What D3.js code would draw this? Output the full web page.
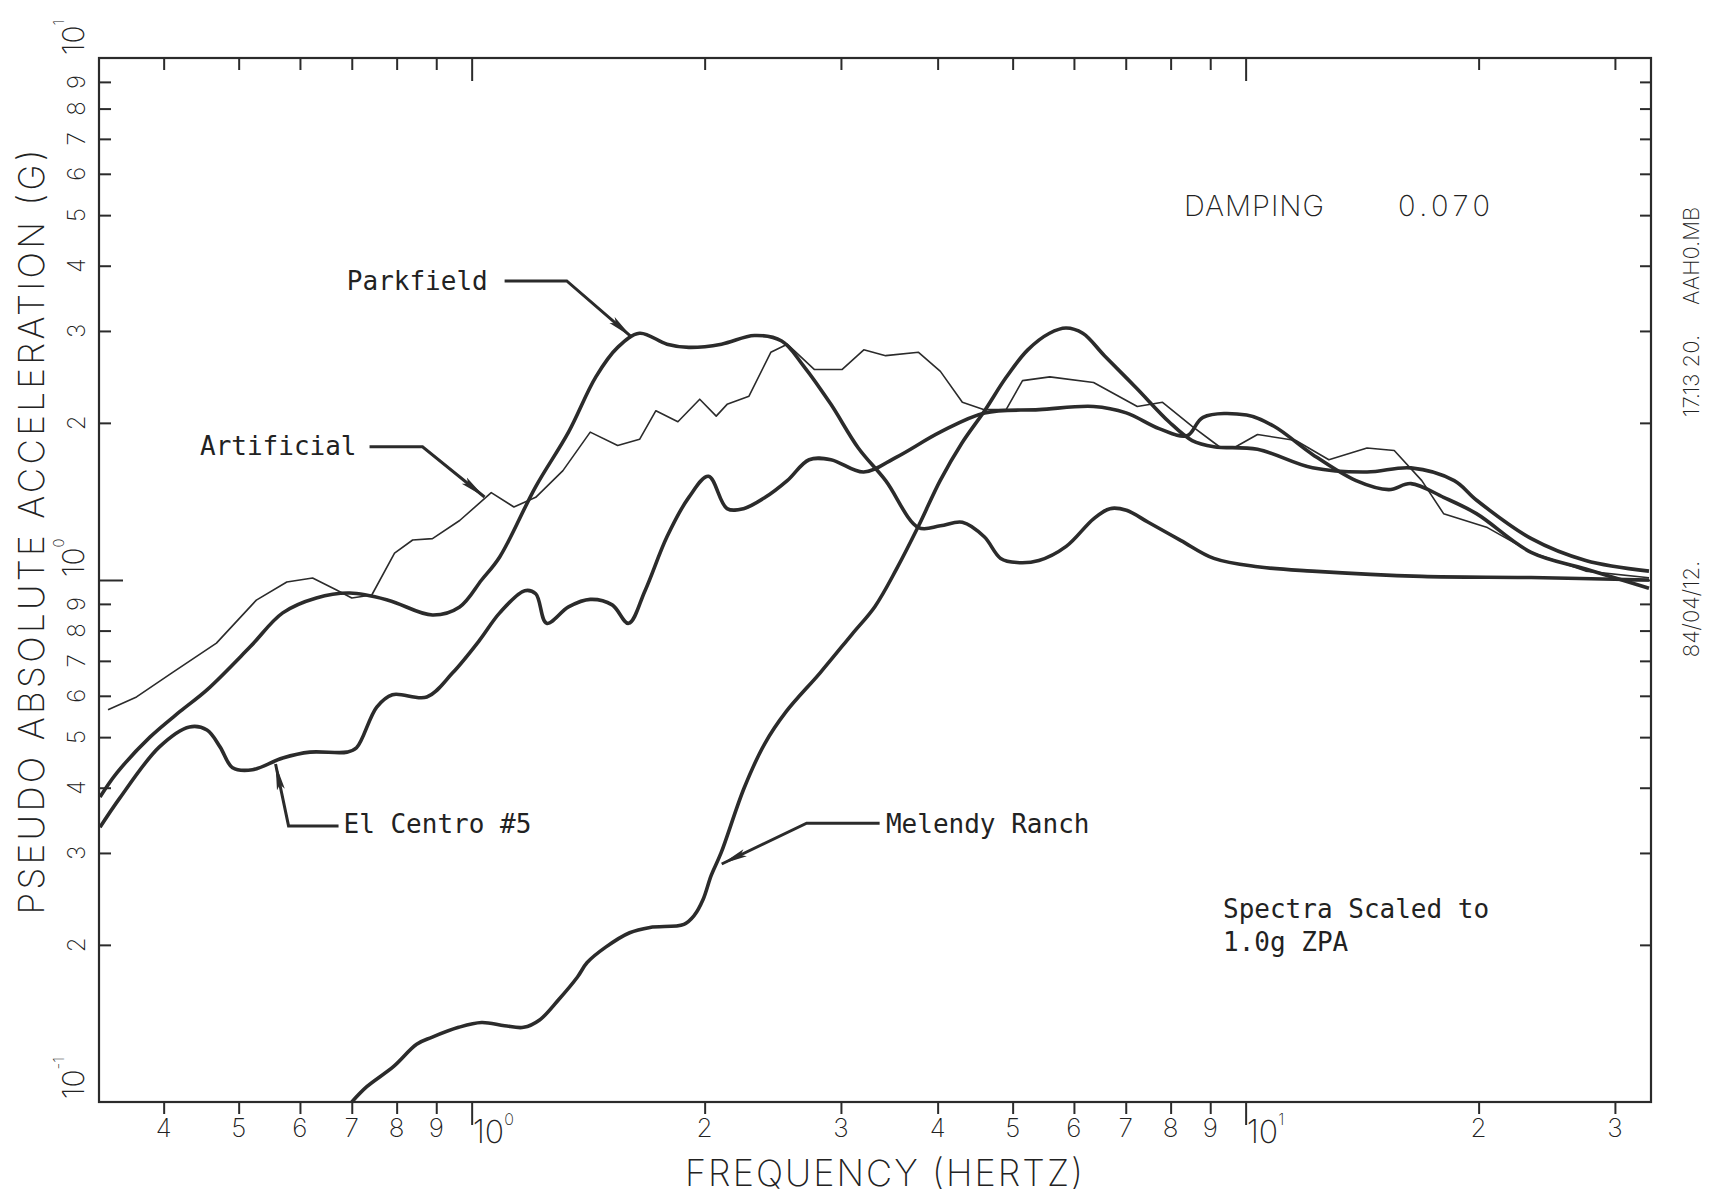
<!DOCTYPE html>
<html>
<head>
<meta charset="utf-8">
<script src="https://cdn.jsdelivr.net/npm/d3@7"></script>
<style>
  html, body { margin: 0; padding: 0; background: #fff; }
  svg { display: block; }
</style>
</head>
<body>
<svg id="chart" width="1715" height="1194"></svg>
<script>
// ---- axis ticks -------------------------------------------------------
const freqTicks = [0.4, 0.5, 0.6, 0.7, 0.8, 0.9, 1, 2, 3, 4, 5, 6, 7, 8, 9, 10, 20, 30];
const freqTickLabels = ["4", "5", "6", "7", "8", "9", "10^0", "2", "3", "4", "5", "6", "7", "8", "9", "10^1", "2", "3"];
const accTicks = [0.2, 0.3, 0.4, 0.5, 0.6, 0.7, 0.8, 0.9, 1, 2, 3, 4, 5, 6, 7, 8, 9];
const accTickLabels = ["2", "3", "4", "5", "6", "7", "8", "9", "", "2", "3", "4", "5", "6", "7", "8", "9"];
const accDecades = [0.1, 1, 10];
const accDecadeLabels = ["10^-1", "10^0", "10^1"];

// ---- response spectra: [frequency Hz, pseudo absolute acceleration g] ----
const parkfield = [
  [0.331, 0.384], [0.348, 0.427], [0.384, 0.50], [0.420, 0.56], [0.455, 0.616],
  [0.517, 0.744], [0.57, 0.865], [0.63, 0.924], [0.696, 0.944], [0.78, 0.915],
  [0.89, 0.857], [0.965, 0.888], [1.03, 1.0], [1.087, 1.107], [1.21, 1.51],
  [1.334, 1.92], [1.447, 2.45], [1.544, 2.79], [1.648, 2.97], [1.788, 2.83],
  [1.908, 2.79], [2.103, 2.83], [2.319, 2.94], [2.515, 2.87], [2.685, 2.57],
  [2.912, 2.17], [3.159, 1.79], [3.427, 1.55], [3.779, 1.26], [4.033, 1.27],
  [4.305, 1.29], [4.595, 1.21], [4.825, 1.10], [5.066, 1.08], [5.406, 1.09],
  [5.864, 1.16], [6.361, 1.31], [6.679, 1.37], [7.014, 1.36], [7.484, 1.29],
  [8.252, 1.19], [9.099, 1.10], [10.36, 1.06], [12.2, 1.04], [16.89, 1.016],
  [23.38, 1.011], [33.2, 1.0]
];
const elCentro = [
  [0.331, 0.336], [0.351, 0.382], [0.395, 0.479], [0.432, 0.523], [0.455, 0.516],
  [0.473, 0.479], [0.491, 0.437], [0.521, 0.433], [0.57, 0.456], [0.618, 0.468],
  [0.69, 0.468], [0.71, 0.477], [0.754, 0.571], [0.79, 0.603], [0.875, 0.597],
  [0.945, 0.664], [1.024, 0.767], [1.087, 0.865], [1.171, 0.954], [1.21, 0.941],
  [1.25, 0.826], [1.334, 0.888], [1.423, 0.918], [1.519, 0.896], [1.595, 0.826],
  [1.675, 0.954], [1.788, 1.21], [1.908, 1.44], [2.023, 1.58], [2.138, 1.37],
  [2.245, 1.37], [2.395, 1.44], [2.557, 1.55], [2.729, 1.70], [2.912, 1.70],
  [3.21, 1.61], [3.54, 1.72], [4.03, 1.92], [4.6, 2.09], [5.41, 2.12],
  [6.36, 2.15], [7.01, 2.09], [7.73, 1.95], [8.4, 1.89], [8.81, 2.05],
  [10.03, 2.07], [10.88, 1.97], [12.2, 1.74], [13.89, 1.55], [15.31, 1.49],
  [16.35, 1.53], [18.02, 1.44], [19.87, 1.34], [23.38, 1.13], [27.5, 1.05],
  [33.2, 0.964]
];
const melendyRanch = [
  [0.70, 0.100], [0.732, 0.107], [0.793, 0.117], [0.849, 0.129], [0.888, 0.133],
  [0.962, 0.139], [1.03, 0.142], [1.103, 0.140], [1.167, 0.139], [1.224, 0.1436],
  [1.295, 0.157], [1.37, 0.1736], [1.41, 0.185], [1.49, 0.198], [1.6, 0.211],
  [1.7, 0.216], [1.88, 0.219], [1.94, 0.228], [1.99, 0.244], [2.04, 0.272],
  [2.1, 0.30], [2.25, 0.40], [2.39, 0.485], [2.55, 0.56], [2.82, 0.664],
  [3.1, 0.787], [3.32, 0.89], [3.54, 1.05], [3.78, 1.27], [4.03, 1.55],
  [4.3, 1.83], [4.6, 2.11], [4.9, 2.44], [5.23, 2.76], [5.58, 2.97],
  [5.86, 3.04], [6.16, 2.97], [6.57, 2.69], [7.23, 2.33], [7.96, 2.01],
  [8.53, 1.85], [9.1, 1.80], [10.36, 1.78], [12.2, 1.64], [14.35, 1.61],
  [16.35, 1.64], [18.6, 1.55], [19.9, 1.42], [23.4, 1.2], [27.5, 1.09],
  [33.2, 1.04]
];
const artificial = [
  [0.339, 0.564], [0.369, 0.597], [0.41, 0.664], [0.468, 0.757], [0.527, 0.915],
  [0.577, 0.991], [0.623, 1.009], [0.669, 0.957], [0.70, 0.924], [0.743, 0.936],
  [0.795, 1.126], [0.839, 1.193], [0.89, 1.2], [0.965, 1.30], [1.06, 1.47],
  [1.134, 1.38], [1.21, 1.44], [1.312, 1.62], [1.423, 1.92], [1.544, 1.81],
  [1.648, 1.86], [1.73, 2.11], [1.847, 2.01], [1.971, 2.22], [2.07, 2.06],
  [2.138, 2.17], [2.282, 2.25], [2.435, 2.73], [2.557, 2.83], [2.773, 2.53],
  [3.009, 2.53], [3.211, 2.76], [3.427, 2.69], [3.779, 2.73], [4.033, 2.51],
  [4.305, 2.19], [4.595, 2.12], [4.904, 2.12], [5.149, 2.41], [5.585, 2.45],
  [6.361, 2.39], [7.245, 2.15], [7.81, 2.19], [8.53, 1.97], [9.25, 1.80],
  [9.71, 1.80], [10.36, 1.90], [11.61, 1.85], [12.81, 1.70], [14.35, 1.79],
  [15.56, 1.77], [16.89, 1.55], [18.02, 1.34], [20.53, 1.26], [23.38, 1.13],
  [27.5, 1.04], [33.2, 1.01]
];

// ---- curve labels with leader arrows (points in Hz / g) ----
const annotations = [
  { text: "Parkfield", anchor: "end", at: [1.049, 3.59], leader: [[1.103, 3.74], [1.327, 3.74], [1.61, 2.92]] },
  { text: "Artificial", anchor: "end", at: [0.71, 1.736], leader: [[0.738, 1.80], [0.864, 1.80], [1.039, 1.442]] },
  { text: "El Centro #5", anchor: "start", at: [0.683, 0.3276], leader: [[0.673, 0.338], [0.580, 0.338], [0.558, 0.444]] },
  { text: "Melendy Ranch", anchor: "start", at: [3.43, 0.3276], leader: [[3.366, 0.342], [2.709, 0.342], [2.104, 0.2857]] }
];

const ink = "#2b2b2b";
const mono = "'DejaVu Sans Mono', monospace";
// thin pen lettering for axis titles, tick labels and plot notes
const pen = "Inter, 'DejaVu Sans', sans-serif";
const penWeight = 200;

const svg = d3.select("#chart");
const x = d3.scaleLog().domain([0.33, 33.4]).range([99, 1651]);
const y = d3.scaleLog().domain([0.1, 10]).range([1102, 58]);
const [x0, x1] = x.range();
const [y0, y1] = y.range();

const isDecade = v => Math.abs(Math.log10(v) - Math.round(Math.log10(v))) < 1e-9;

// ---- frame and ticks ----
function styleAxis(g, major) {
  g.select(".domain").remove();
  g.selectAll(".tick line").attr("stroke", ink).attr("stroke-width", 2);
  g.selectAll(".tick").filter(d => isDecade(d)).select("line").each(function () {
    const l = d3.select(this);
    ["x2", "y2"].forEach(a => {
      const v = +l.attr(a);
      if (v) l.attr(a, v > 0 ? major : -major);
    });
  });
}
svg.append("g").attr("transform", `translate(0,${y0})`)
  .call(d3.axisBottom(x).tickValues(freqTicks).tickSize(12).tickFormat(""))
  .call(g => styleAxis(g, 23));
svg.append("g").attr("transform", `translate(0,${y1})`)
  .call(d3.axisTop(x).tickValues(freqTicks).tickSize(-12).tickFormat(""))
  .call(g => styleAxis(g, 23));
svg.append("g").attr("transform", `translate(${x0},0)`)
  .call(d3.axisLeft(y).tickValues(accTicks).tickSize(-12).tickFormat(""))
  .call(g => styleAxis(g, 24));
svg.append("g").attr("transform", `translate(${x1},0)`)
  .call(d3.axisRight(y).tickValues(accTicks).tickSize(-11).tickFormat(""))
  .call(g => styleAxis(g, 22));

svg.append("rect")
  .attr("x", x0).attr("y", y1).attr("width", x1 - x0).attr("height", y0 - y1)
  .attr("fill", "none").attr("stroke", ink).attr("stroke-width", 2.2);

// ---- tick labels ----
function powerLabel(sel, label, baseSize, supSize, supShift) {
  const [base, exp] = label.split("^");
  sel.append("tspan").text(base).attr("font-size", baseSize);
  sel.append("tspan").text(exp).attr("font-size", supSize).attr("dy", -supShift);
}

const xl = svg.append("g").attr("font-family", pen).attr("font-weight", penWeight).attr("fill", "#222");
freqTicks.forEach((t, i) => {
  const lab = freqTickLabels[i];
  if (lab.includes("^")) {
    const tx = xl.append("text").attr("x", x(t) + 1).attr("y", y0 + 41).attr("text-anchor", "start");
    powerLabel(tx, lab, 32, 16, 18);
  } else {
    xl.append("text").attr("x", x(t)).attr("y", y0 + 35).attr("text-anchor", "middle")
      .attr("font-size", 26).text(lab);
  }
});

const yl = svg.append("g").attr("font-family", pen).attr("font-weight", penWeight).attr("fill", "#222");
accTicks.forEach((t, i) => {
  if (!accTickLabels[i]) return;
  yl.append("text").attr("transform", `translate(${x0 - 14},${y(t)}) rotate(-90)`)
    .attr("text-anchor", "middle").attr("font-size", 24).text(accTickLabels[i]);
});
accDecades.forEach((t, i) => {
  const tx = yl.append("text").attr("transform", `translate(${x0 - 15},${y(t) - 3}) rotate(-90)`)
    .attr("text-anchor", "start");
  powerLabel(tx, accDecadeLabels[i], 30, 15, 20);
});

// ---- axis titles ----
svg.append("text")
  .attr("transform", `translate(44,532) rotate(-90)`)
  .attr("text-anchor", "middle").attr("font-family", pen).attr("font-weight", penWeight)
  .attr("font-size", 35).attr("fill", "#222").attr("textLength", 765).attr("lengthAdjust", "spacing")
  .text("PSEUDO ABSOLUTE ACCELERATION (G)");
svg.append("text")
  .attr("x", 884).attr("y", 1186)
  .attr("text-anchor", "middle").attr("font-family", pen).attr("font-weight", penWeight)
  .attr("font-size", 36).attr("fill", "#222").attr("textLength", 398).attr("lengthAdjust", "spacing")
  .text("FREQUENCY (HERTZ)");

// ---- spectra ----
const smooth = d3.line().x(d => x(d[0])).y(d => y(d[1])).curve(d3.curveCatmullRom.alpha(0.5));
const straight = d3.line().x(d => x(d[0])).y(d => y(d[1]));

const plot = svg.append("g");
[parkfield, elCentro, melendyRanch].forEach(s => {
  plot.append("path").attr("d", smooth(s)).attr("fill", "none")
    .attr("stroke", ink).attr("stroke-width", 3.6).attr("stroke-linejoin", "round");
});
plot.append("path").attr("d", straight(artificial)).attr("fill", "none")
  .attr("stroke", ink).attr("stroke-width", 1.6).attr("stroke-linejoin", "round");

// ---- annotations ----
svg.append("defs").append("marker")
  .attr("id", "arrowhead").attr("viewBox", "0 0 26 10").attr("refX", 26).attr("refY", 5)
  .attr("markerWidth", 26).attr("markerHeight", 10).attr("markerUnits", "userSpaceOnUse")
  .attr("orient", "auto")
  .append("path").attr("d", "M0,1 L26,5 L0,9 L5,5 Z").attr("fill", ink);

const ann = svg.append("g");
annotations.forEach(a => {
  ann.append("path").attr("d", straight(a.leader)).attr("fill", "none")
    .attr("stroke", ink).attr("stroke-width", 3).attr("marker-end", "url(#arrowhead)");
  ann.append("text").attr("x", x(a.at[0])).attr("y", y(a.at[1]))
    .attr("text-anchor", a.anchor).attr("font-family", mono).attr("font-size", 26)
    .attr("fill", "#222").text(a.text);
});

// ---- notes ----
const notes = svg.append("g").attr("font-family", mono).attr("fill", "#222");
notes.append("text").attr("x", 1223).attr("y", 918).attr("font-size", 26).text("Spectra Scaled to");
notes.append("text").attr("x", 1223).attr("y", 951).attr("font-size", 26).text("1.0g ZPA");

const pens = svg.append("g").attr("font-family", pen).attr("font-weight", penWeight).attr("fill", "#222");
pens.append("text").attr("x", 1184).attr("y", 216).attr("font-size", 29)
  .attr("textLength", 140).attr("lengthAdjust", "spacing").text("DAMPING");
pens.append("text").attr("x", 1398).attr("y", 216).attr("font-size", 29)
  .attr("textLength", 92).attr("lengthAdjust", "spacing").text("0.070");

// plot identification stamp along the right edge
const stamp = [["84/04/12.", 609], ["17.13 20.", 376], ["AAH0.MB", 256]];
stamp.forEach(([s, cy]) => {
  pens.append("text").attr("transform", `translate(1699,${cy}) rotate(-90)`)
    .attr("text-anchor", "middle").attr("font-size", 22).text(s);
});
</script>
</body>
</html>
